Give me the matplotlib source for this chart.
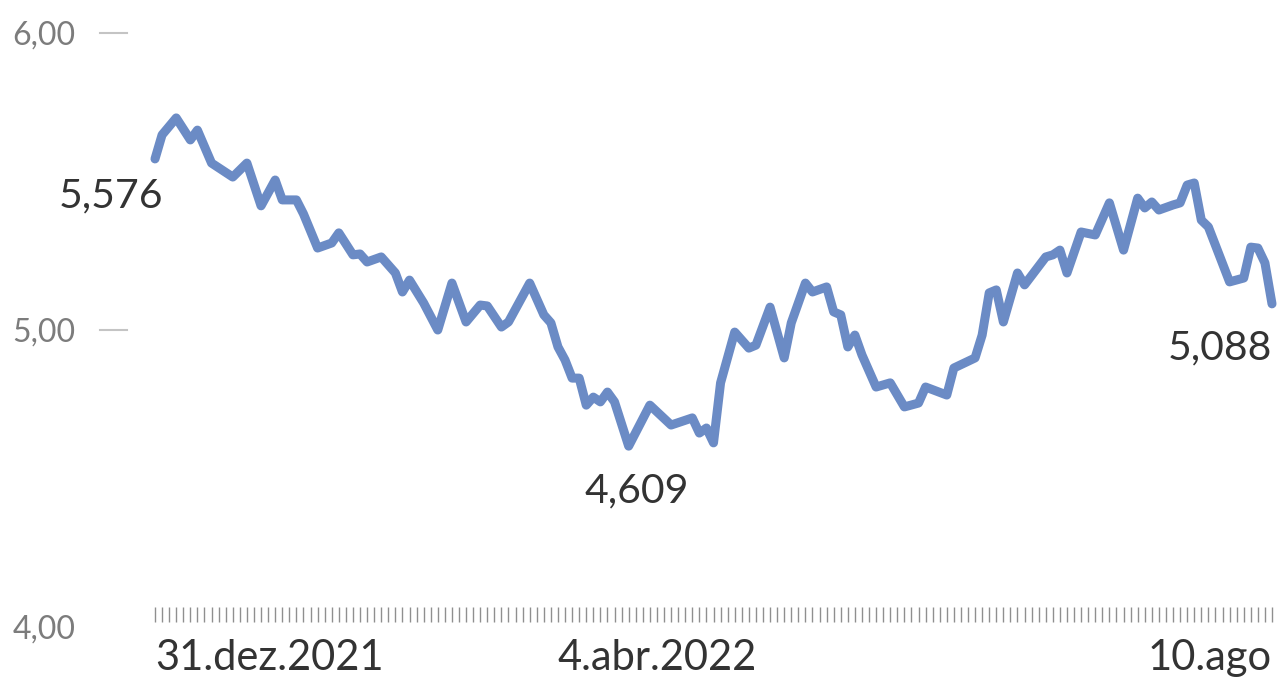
import matplotlib as mpl
mpl.use("Agg")
import matplotlib.pyplot as plt

plt.rcParams["font.family"] = ["Lato", "DejaVu Sans"]

# business-day index since 31.dez.2021 and exchange rate
day = [0, 1, 3, 5, 6, 8, 11, 13, 15, 17, 18, 20, 21, 23, 25, 26, 28, 29, 30, 32,
       34, 35, 36, 38, 40, 42, 44, 46, 47, 49, 50, 53, 55, 56, 57, 58, 59, 60, 61, 62,
       63, 64, 65, 67, 70, 73, 76, 77, 78, 79, 80, 82, 84, 85, 87, 89, 90, 92, 93, 95,
       96, 97, 98, 99, 100, 102, 104, 106, 108, 109, 112, 113, 116, 117, 118, 119, 120, 122, 123, 126,
       127, 128, 129, 131, 133, 135, 137, 139, 140, 141, 142, 144, 145, 146, 147, 148, 149, 152, 154, 155,
       156, 157, 158]
rate = [5.576, 5.657, 5.714, 5.640, 5.673, 5.562, 5.515, 5.562, 5.418, 5.505, 5.438, 5.438, 5.391, 5.276, 5.293, 5.327, 5.253, 5.256, 5.229, 5.246,
        5.192, 5.128, 5.168, 5.091, 5.000, 5.158, 5.027, 5.084, 5.081, 5.010, 5.027, 5.158, 5.051, 5.024, 4.943, 4.899, 4.838, 4.838, 4.747, 4.774,
        4.758, 4.791, 4.758, 4.609, 4.747, 4.680, 4.704, 4.653, 4.670, 4.620, 4.822, 4.993, 4.939, 4.949, 5.077, 4.906, 5.024, 5.158, 5.128, 5.145,
        5.061, 5.051, 4.943, 4.983, 4.916, 4.808, 4.822, 4.741, 4.754, 4.808, 4.781, 4.872, 4.906, 4.983, 5.125, 5.135, 5.027, 5.192, 5.152, 5.246,
        5.253, 5.269, 5.192, 5.330, 5.320, 5.428, 5.269, 5.444, 5.411, 5.431, 5.404, 5.421, 5.428, 5.488, 5.495, 5.370, 5.347, 5.162, 5.175, 5.279,
        5.276, 5.226, 5.088]
n_days = 159

y_ticks = [4, 5, 6]
y_tick_labels = ["4,00", "5,00", "6,00"]
x_label_days = [0, 71, 158]
x_labels = ["31.dez.2021", "4.abr.2022", "10.ago"]

line_color = "#6b8bc5"
text_color = "#333333"
grey = "#7c7c7c"

fig = plt.figure(figsize=(12.78, 6.82), dpi=100)
ax = fig.add_axes([155 / 1278, 55 / 682, 1117 / 1278, 594 / 682])
ax.set_xlim(0, n_days - 1)
ax.set_ylim(4, 6)

ax.plot(day, rate, color=line_color, linewidth=6.5, solid_joinstyle="round",
        solid_capstyle="round", clip_on=False, zorder=3)

for s in ax.spines.values():
    s.set_visible(False)

# y axis: labels plus short dashes
ax.set_yticks(y_ticks)
ax.set_yticklabels(y_tick_labels, fontsize=23, color=grey)
ax.tick_params(axis="y", length=0, pad=57)
ytr = ax.get_yaxis_transform()
for v in y_ticks[1:]:
    ax.plot([-0.049, -0.025], [v, v], transform=ytr, color="#c4c4c4",
            linewidth=1.5, clip_on=False)

# x axis: one small tick per day, three date labels
ax.set_xticks([])
xtr = ax.get_xaxis_transform()
ax.vlines(range(n_days), 0.009, 0.034, transform=xtr, color="#8f8f8f",
          linewidth=1.0, clip_on=False)
aligns = ["left", "center", "right"]
for d, lab, ha in zip(x_label_days, x_labels, aligns):
    ax.text(d, -0.052, lab, transform=xtr, ha=ha, va="center",
            fontsize=30, color=text_color)

# value callouts
i_min = rate.index(min(rate))
callouts = [(0, (6, -27), "right"), (i_min, (6, -32), "center"), (len(rate) - 1, (0, -32), "right")]
for i, off, ha in callouts:
    ax.annotate(f"{rate[i]:.3f}".replace(".", ","), (day[i], rate[i]),
                xytext=off, textcoords="offset points", ha=ha, va="center",
                fontsize=29.5, color=text_color)

fig.savefig("out.png", dpi=100, facecolor="white")
